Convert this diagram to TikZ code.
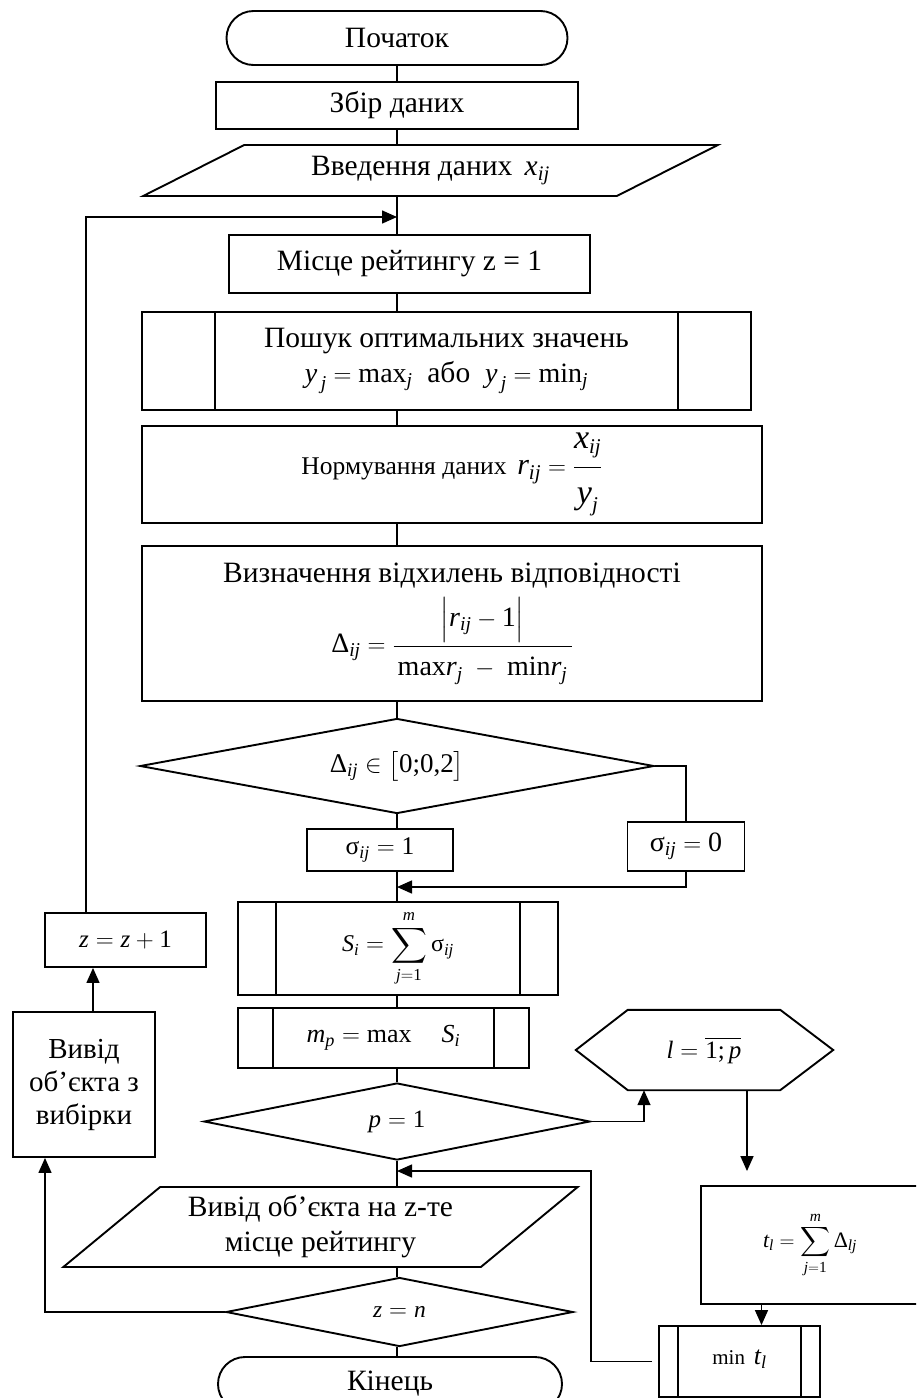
\documentclass[tikz,border=0pt]{standalone}
\usepackage{amsmath}
\usepackage{fontspec}
\setmainfont{Liberation Serif}
\usetikzlibrary{shapes.geometric,shapes.misc,arrows.meta}
\newcommand{\mv}[1]{\text{\itshape #1}}
\newcommand{\gr}[1]{\text{\upshape #1}}
\newcommand{\fsz}[1]{\fontsize{#1}{#1}\selectfont}

\begin{document}
\begin{tikzpicture}[x=1pt,y=-1pt,
    font=\fontsize{29.5}{35}\selectfont,
    forma/.style={draw, line width=1.9pt, inner sep=0pt, align=center},
    term/.style={forma, rounded rectangle, minimum width=#1, minimum height=54pt},
    bloque/.style 2 args={forma, rectangle, minimum width=#1, minimum height=#2},
    subprog/.style n args={3}{bloque={#1}{#2},
        path picture={\draw[line width=1.9pt]
          ([xshift=#3]path picture bounding box.north west) -- ([xshift=#3]path picture bounding box.south west)
          ([xshift=-#3]path picture bounding box.north east) -- ([xshift=-#3]path picture bounding box.south east);}},
    io/.style n args={4}{forma, trapezium, trapezium stretches=true,
        trapezium left angle=#3, trapezium right angle=#4, minimum width=#1, minimum height=#2},
    decision/.style n args={3}{forma, diamond, aspect=#3, minimum width=#1, minimum height=#2},
    con/.style={line width=1.5pt},
    flecha/.style={con, -{Triangle[length=15pt,width=13pt]}}]

    %marco
    \useasboundingbox (0,0) rectangle (916,1398);
    \clip (0,0) rectangle (916,1398);
    \coordinate (eje) at (397,0);

    %bloques
    \node[term=341pt] (inicio) at (397,38) {Початок};
    \node[bloque={362pt}{47pt}] (datos) at (397,105.5) {Збір даних};
    \node[io={575pt}{51pt}{24}{156}] (entrada) at (430.5,170.5) {Введення даних\, $\mv{x}_{\mv{ij}}$};
    \node[bloque={361pt}{58pt}] (lugar) at (409.5,264) {Місце рейтингу z = 1};
    \node[subprog={609pt}{98pt}{73pt}] (optimo) at (446.5,361)
        {Пошук оптимальних значень\\[0pt]
         {\fsz{28}$\mv{y}_{\,\mv{j}} = \max_{\mv{j}}$}\ \ або\ \ {\fsz{28}$\mv{y}_{\,\mv{j}} = \min_{\mv{j}}$}};
    \node[bloque={620pt}{97pt}, font=\fsz{25.5}] (norma) at (452,474.5)
        {Нормування даних\, {\fsz{30}$\mv{r}_{\mv{ij}} = \dfrac{\rule[-16pt]{0pt}{16pt}{\fsz{34}\mv{x}_{\mv{ij}}}}{\rule{0pt}{32pt}{\fsz{34}\mv{y}_{\mv{j}}}}$}};
    \node[bloque={620pt}{155pt}] (desv) at (452,623.5)
        {Визначення відхилень відповідності\\[9pt]
         {\fsz{28}$\gr{Δ}_{\mv{ij}} = \dfrac{\Bigl|\mv{r}_{\mv{ij}} - \gr{1}\Bigr|}{\rule{0pt}{26pt}\,\text{max}\mv{r}_{\mv{j}} \;-\; \text{min}\mv{r}_{\mv{j}}\,}$}};
    \node[decision={514pt}{95pt}{5.41}, font=\fsz{27}] (cond1) at (397,766) {$\gr{Δ}_{\mv{ij}} \in \bigl[\gr{0;0,2}\bigr]$};
    \node[bloque={146pt}{42pt}, font=\fsz{25.5}] (uno) at (380,850) {$\gr{σ}_{\mv{ij}} = \gr{1}$};
    \node[bloque={117pt}{49pt}, font=\fsz{28}] (cero) at (686,846.5) {$\gr{σ}_{\mv{ij}} = \gr{0}$};
    \node[subprog={320pt}{93pt}{38pt}, font=\fsz{24}] (suma) at (398,948.5)
        {$\mv{S}_{\mv{i}} = \displaystyle\sum_{\mv{j}=\gr{1}}^{\mv{m}} \gr{σ}_{\mv{ij}}$};
    \node[bloque={161pt}{54pt}, font=\fsz{25}] (incz) at (125.5,940) {$\mv{z} = \mv{z} + \gr{1}$};
    \node[bloque={142pt}{145pt}, font=\fontsize{29}{33}\selectfont] (vyvid) at (84,1084.5) {Вивід\\об’єкта з\\вибірки};
    \node[subprog={291pt}{60pt}{35pt}, font=\fsz{26}] (maxs) at (383.5,1038) {$\mv{m}_{\mv{p}} = \max\quad \mv{S}_{\mv{i}}$};
    \node[minimum width=152pt, minimum height=80pt, inner sep=0pt, font=\fsz{25}] (ciclo) at (704,1050)
        {$\mv{l} = \overline{\gr{1;}\,\mv{p}}$};
    \draw[line width=1.9pt] (ciclo.north west) -- (ciclo.north east) -- ([xshift=53pt]ciclo.east)
        -- (ciclo.south east) -- (ciclo.south west) -- ([xshift=-52pt]ciclo.west) -- cycle;
    \node[decision={386pt}{77pt}{5.01}, font=\fsz{25}] (cond2) at (397,1121.5) {$\mv{p} = \gr{1}$};
    \node[io={515pt}{80pt}{38}{142}] (salida) at (320.5,1227) {Вивід об’єкта на z-те\\[0pt]місце рейтингу};
    \node[decision={347pt}{69pt}{5.03}, font=\fsz{23.5}] (cond3) at (399.5,1312) {$\mv{z} = \mv{n}$};
    \node[term=344pt] (fin) at (390,1384) {Кінець};
    \node[bloque={218pt}{118pt}, font=\fsz{22}] (tl) at (810,1245)
        {$\mv{t}_{\mv{l}} = \displaystyle\sum_{\mv{j}=\gr{1}}^{\mv{m}} \gr{Δ}_{\mv{lj}}$};
    \node[subprog={161pt}{71pt}{19pt}, font=\fsz{21}] (mint) at (739.5,1361.5)
        {\raisebox{8pt}{min\, {\fsz{26}$\mv{t}_{\mv{l}}$}}};

    %flujo principal
    \foreach \a/\b in {inicio/datos, datos/entrada, entrada/lugar, lugar/optimo, optimo/norma,
                       norma/desv, desv/cond1, cond1/uno, uno/suma, suma/maxs, maxs/cond2,
                       cond2/salida, salida/cond3, cond3/fin}
        \draw[con] (\a.south -| eje) -- (\b.north -| eje);

    %ramas
    \coordinate (j0) at (397,217);
    \coordinate (j1) at (397,887);
    \coordinate (j2) at (591,1171);
    \draw[con] (cond1.east) -| (cero.north);
    \draw[flecha] (cero.south) |- (j1);
    \draw[flecha] (cond2.east) -| ([xshift=-60pt]ciclo.south);
    \draw[flecha, shorten >=14pt] ([xshift=43pt]ciclo.south) -- ([xshift=43pt]ciclo.south |- tl.north);
    \draw[flecha] ([xshift=22pt]mint.north |- tl.south) -- ([xshift=22pt]mint.north);
    \draw[flecha, shorten <=6pt] (mint.west) -| (j2) -- (j2 -| eje);
    \draw[flecha] (cond3.west) -| ([xshift=-39pt]vyvid.south);
    \draw[flecha] ([xshift=9pt]vyvid.north) -- ([xshift=9pt]vyvid.north |- incz.south);
    \draw[flecha] ([xshift=-39.5pt]incz.north) |- (j0);
\end{tikzpicture}
\end{document}
